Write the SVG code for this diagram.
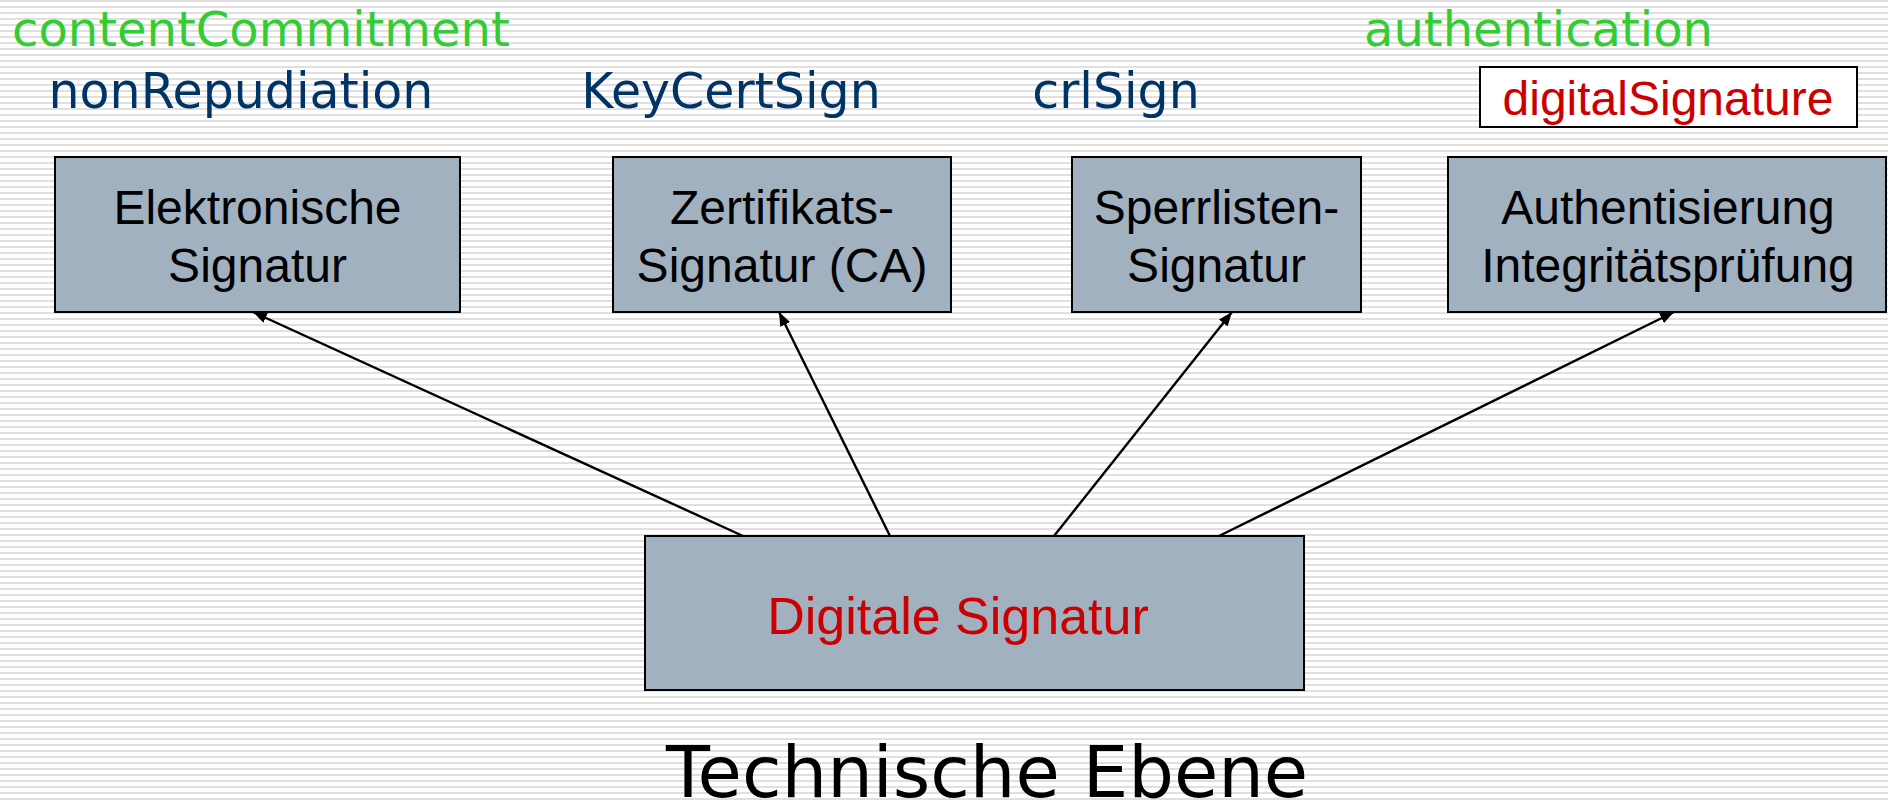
<svg xmlns="http://www.w3.org/2000/svg" width="1888" height="804" viewBox="0 0 1888 804">
<defs>
<pattern id="stripes" width="8" height="6" patternUnits="userSpaceOnUse">
<rect width="8" height="6" fill="#ffffff"/>
<rect y="0" width="8" height="2" fill="#e0e0e0"/>
</pattern>
<marker id="arr" viewBox="0 0 14 11" refX="14" refY="5.5" markerWidth="14" markerHeight="11" markerUnits="userSpaceOnUse" orient="auto">
<path d="M0,0 L14,5.5 L0,11 Z" fill="#000"/>
</marker>
<style>
.box{fill:#a2b1c0;stroke:#000;stroke-width:2}
.bt{font-family:"Liberation Sans",Arial,sans-serif;font-size:48px;fill:#000;text-anchor:middle}
.green{font-family:"DejaVu Sans",Verdana,sans-serif;font-size:48px;fill:#33cc33}
.navy{font-family:"DejaVu Sans",Verdana,sans-serif;font-size:49px;fill:#003366;text-anchor:middle}
.red{font-family:"Liberation Sans",Arial,sans-serif;fill:#cc0000;text-anchor:middle}
.conn{stroke:#000;stroke-width:2.4;fill:none;marker-end:url(#arr)}
</style>
</defs>
<rect width="1888" height="804" fill="url(#stripes)"/>

<g id="labels">
<text class="green" x="12" y="46">contentCommitment</text>
<text class="green" x="1364" y="46">authentication</text>
<text class="navy" x="241" y="108">nonRepudiation</text>
<text class="navy" x="731" y="108">KeyCertSign</text>
<text class="navy" x="1116" y="108">crlSign</text>
</g>

<g id="digitalSignature">
<rect x="1480" y="67" width="377" height="60" fill="#fff" stroke="#000" stroke-width="2"/>
<text class="red" x="1668" y="115" font-size="48">digitalSignature</text>
</g>

<g id="elektronische">
<rect class="box" x="55" y="157" width="405" height="155"/>
<text class="bt" x="257.5" y="224">Elektronische</text>
<text class="bt" x="257.5" y="282">Signatur</text>
</g>

<g id="zertifikats">
<rect class="box" x="613" y="157" width="338" height="155"/>
<text class="bt" x="782" y="224">Zertifikats-</text>
<text class="bt" x="782" y="282">Signatur (CA)</text>
</g>

<g id="sperrlisten">
<rect class="box" x="1072" y="157" width="289" height="155"/>
<text class="bt" x="1216.5" y="224">Sperrlisten-</text>
<text class="bt" x="1216.5" y="282">Signatur</text>
</g>

<g id="authentisierung">
<rect class="box" x="1448" y="157" width="438" height="155"/>
<text class="bt" x="1668" y="224">Authentisierung</text>
<text class="bt" x="1668" y="282">Integritätsprüfung</text>
</g>

<g id="digitale">
<rect class="box" x="645" y="536" width="659" height="154"/>
<text class="red" x="958" y="634" font-size="52">Digitale Signatur</text>
</g>

<g id="connectors">
<line class="conn" x1="743" y1="536" x2="253" y2="312"/>
<line class="conn" x1="890" y1="536" x2="779" y2="312"/>
<line class="conn" x1="1054" y1="536" x2="1232" y2="312"/>
<line class="conn" x1="1219" y1="536" x2="1674" y2="312"/>
</g>

<g id="title">
<text x="987" y="797" font-family="'DejaVu Sans',Verdana,sans-serif" font-size="72" fill="#000" text-anchor="middle">Technische Ebene</text>
</g>
</svg>
